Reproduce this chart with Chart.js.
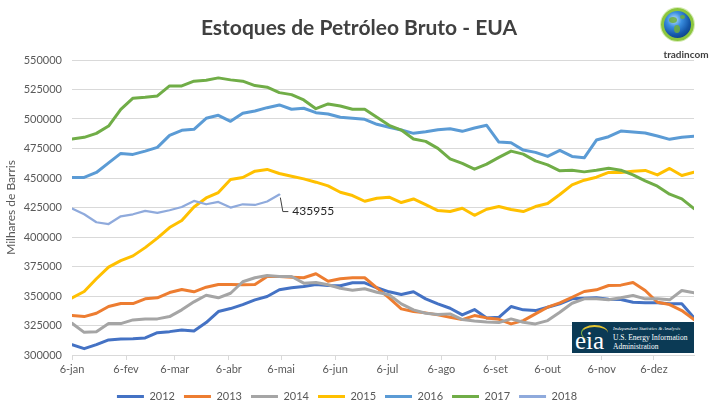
<!DOCTYPE html>
<html>
<head>
    <meta charset="UTF-8">
    <title>Estoques de Petróleo Bruto - EUA</title>
    <script src="https://cdn.jsdelivr.net/npm/chart.js"></script>
    <style>
        body {
            margin: 0;
            background: #fff;
            font-family: Lato, sans-serif;
        }
        #wrap {
            position: relative;
            width: 715px;
            height: 409px;
        }
        .title {
            position: absolute;
            left: 0;
            top: 12px;
            width: 718px;
            text-align: center;
            font: bold 21px Lato, sans-serif;
            line-height: 30px;
            color: #404040;
        }
        .globe {
            position: absolute;
            left: 661px;
            top: 8px;
            width: 27px;
            height: 27px;
            border-radius: 50%;
            background: radial-gradient(circle at 38% 32%, #bfe3ff 0%, #3a8ee0 30%, #1456a8 62%, #0a2c63 100%);
            border: 3px solid #8cc63e;
            box-shadow: 0 0 0 1px #d6ecb4;
        }
        .globe span {
            position: absolute;
            background: #6fae3a;
            border-radius: 50%;
            opacity: 0.85;
        }
        .brand {
            position: absolute;
            left: 660px;
            top: 48px;
            width: 52px;
            text-align: center;
            font: bold 10px Lato, sans-serif;
            color: #3f3f3f;
        }
        .eia {
            position: absolute;
            left: 572px;
            top: 322px;
            width: 122px;
            height: 31px;
            background: #0b3a55;
            color: #fff;
            overflow: hidden;
        }
        .eia .mark {
            position: absolute;
            left: 3px;
            top: 7px;
            font: 25px "Liberation Serif", serif;
            line-height: 24px;
        }
        .eia .swoosh {
            position: absolute;
            left: 9px;
            top: 3px;
            width: 26px;
            height: 14px;
            border-radius: 50%;
            border-top: 2px solid #e3c432;
            border-left: 1px solid #7cb342;
        }
        .eia .small {
            position: absolute;
            left: 41px;
            top: 4px;
            font: italic 5px "Liberation Serif", serif;
            white-space: nowrap;
        }
        .eia .big {
            position: absolute;
            left: 41px;
            top: 12px;
            font: 7.5px "Liberation Serif", serif;
            line-height: 8.5px;
            white-space: nowrap;
        }
    </style>
</head>
<body>
<div id="wrap">
    <canvas id="chart" width="715" height="409"></canvas>
    <div class="title">Estoques de Petróleo Bruto - EUA</div>
    <div class="globe">
        <span style="left:5px;top:6px;width:8px;height:6px"></span>
        <span style="left:10px;top:14px;width:6px;height:8px"></span>
        <span style="left:16px;top:4px;width:5px;height:4px"></span>
    </div>
    <div class="brand">tradincom</div>
    <div class="eia">
        <div class="swoosh"></div>
        <div class="mark">eia</div>
        <div class="small">Independent Statistics &amp; Analysis</div>
        <div class="big">U.S. Energy Information<br>Administration</div>
    </div>
</div>

<script>
    // eixo x: dias desde 6-jan, rótulos no dia 6 de cada mês
    const monthTicks = [0, 31, 59, 90, 120, 151, 181, 212, 243, 273, 304, 334];
    const monthLabels = ['6-jan', '6-fev', '6-mar', '6-abr', '6-mai', '6-jun',
                         '6-jul', '6-ago', '6-set', '6-out', '6-nov', '6-dez'];

    const years = ['2012', '2013', '2014', '2015', '2016', '2017', '2018'];
    const colors = ['#4472C4', '#ED7D31', '#A5A5A5', '#FFC000', '#5B9BD5', '#70AD47', '#8FAADC'];

    // estoques semanais (milhares de barris)
    const s2012 = [308750, 305350, 308750, 312750, 313600, 313850, 314450, 318950, 319800, 321250,
                   320400, 327450, 336800, 339350, 342750, 346750, 349550, 355250, 356950, 358050,
                   359750, 358900, 358650, 361200, 361200, 356950, 353550, 351250, 353550, 347600,
                   343350, 339600, 334000, 338500, 331450, 331950, 341050, 338250, 337650, 340500,
                   343350, 347600, 348100, 348450, 347250, 347000, 344700, 344200, 344200, 343350,
                   343350, 331450];
    const s2013 = [333400, 332550, 335350, 341050, 343600, 343600, 347600, 348450, 352950, 355500,
                   353550, 357450, 359750, 359750, 359500, 359750, 366550, 366550, 365950, 365450,
                   368850, 362550, 364600, 365450, 365450, 356950, 348450, 339100, 336800, 335700,
                   334000, 331950, 330000, 333400, 331450, 330250, 326350, 329150, 334850, 340500,
                   344200, 348950, 353800, 355250, 358900, 359200, 361450, 354650, 344700, 342750,
                   337650, 330000];
    const s2014 = [326850, 319200, 319800, 326600, 326600, 329750, 330600, 330600, 332550, 338250,
                   345050, 350650, 348450, 352350, 362050, 365450, 367400, 366550, 366550, 360900,
                   361450, 359500, 356600, 354900, 356100, 353200, 351000, 343350, 338250, 335350,
                   334250, 334850, 330000, 328900, 328050, 327450, 330600, 327700, 326350, 329150,
                   336200, 343850, 347600, 347600, 346750, 348450, 350400, 347600, 347600, 346750,
                   354650, 352700];
    const s2015 = [348450, 353800, 364600, 374450, 380000, 384000, 391000, 399000, 408000, 414000,
                   425450, 433100, 437700, 448750, 450450, 455800, 457250, 453850, 451550, 449250,
                   446450, 443300, 437950, 435150, 430300, 432850, 433700, 429200, 432250, 427500,
                   422400, 421550, 424350, 418400, 423500, 425800, 423250, 421550, 425800, 428350,
                   436000, 444150, 448150, 450700, 454700, 454700, 455800, 456400, 452650, 458100,
                   452150, 454950];
    const s2016 = [450450, 450450, 454700, 462850, 470850, 470000, 472800, 475950, 486150, 490400,
                   491250, 500600, 503150, 498050, 504850, 506800, 509600, 511900, 508250, 509100,
                   505350, 504250, 501450, 500600, 499750, 495500, 492950, 490650, 487850, 489200,
                   490900, 491750, 489550, 492350, 494650, 480450, 479850, 473650, 471700, 468300,
                   473400, 468300, 467100, 482150, 485000, 489800, 488950, 488100, 485550, 482750,
                   484450, 485300];
    const s2017 = [483000, 484450, 487850, 494000, 508250, 517600, 518450, 519550, 528000, 528000,
                   532050, 532900, 534850, 533150, 532050, 528300, 527000, 522350, 520650, 516150,
                   508750, 512750, 511050, 508250, 508250, 501450, 494650, 490650, 483000, 481050,
                   475100, 466250, 462350, 457500, 461750, 467450, 472800, 470250, 464550, 461150,
                   456050, 456650, 455200, 456650, 458350, 456650, 452650, 447550, 443050, 436250,
                   432250, 424100];
    const s2018 = [424100, 419250, 412500, 411000, 417550, 419250, 422100, 420400, 422650, 425450,
                   430550, 427750, 429700, 424950, 427750, 427150, 430050, 435955];

    const series = [s2012, s2013, s2014, s2015, s2016, s2017, s2018];

    Chart.defaults.font.family = 'Lato, sans-serif';

    // rótulo do último valor de 2018 com linha de chamada
    const lastValueLabel = {
        id: 'lastValueLabel',
        afterDatasetsDraw(chart) {
            const meta = chart.getDatasetMeta(6);
            const pt = meta.data[meta.data.length - 1];
            const ctx = chart.ctx;
            ctx.save();
            ctx.strokeStyle = '#404040';
            ctx.lineWidth = 1;
            ctx.beginPath();
            ctx.moveTo(pt.x + 1, pt.y + 3);
            ctx.lineTo(pt.x + 3.5, pt.y + 17);
            ctx.lineTo(pt.x + 9, pt.y + 17);
            ctx.stroke();
            ctx.fillStyle = '#262626';
            ctx.font = '12px Lato, sans-serif';
            ctx.textBaseline = 'middle';
            ctx.fillText(String(s2018[s2018.length - 1]), pt.x + 13, pt.y + 17);
            ctx.restore();
        }
    };

    const datasets = series.map((arr, i) => ({
        label: years[i],
        data: arr.map((v, w) => ({ x: w * 7, y: v })),
        borderColor: colors[i],
        backgroundColor: colors[i],
        borderWidth: i === 6 ? 2.25 : 3,
        borderJoinStyle: 'round',
        borderCapStyle: 'round',
        pointRadius: 0,
        tension: 0,
        order: series.length - i
    }));

    const ctx = document.getElementById('chart').getContext('2d');
    new Chart(ctx, {
        type: 'line',
        data: { datasets },
        plugins: [lastValueLabel],
        options: {
            responsive: false,
            animation: false,
            layout: { padding: { left: 0, right: 21, top: 60, bottom: -3 } },
            plugins: {
                title: { display: false },
                legend: {
                    position: 'bottom',
                    labels: {
                        boxWidth: 27,
                        boxHeight: 3,
                        padding: 9,
                        color: '#595959',
                        font: { size: 11 },
                        generateLabels: chart => chart.data.datasets.map((ds, i) => ({
                            text: ds.label,
                            fillStyle: ds.borderColor,
                            strokeStyle: ds.borderColor,
                            lineWidth: 0,
                            fontColor: '#595959',
                            datasetIndex: i
                        }))
                    }
                },
                tooltip: { enabled: false }
            },
            scales: {
                x: {
                    type: 'linear',
                    min: 0,
                    max: 357,
                    afterBuildTicks: scale => {
                        scale.ticks = monthTicks.map(v => ({ value: v }));
                    },
                    afterFit: scale => { scale.height = 27; },
                    ticks: {
                        autoSkip: false,
                        maxRotation: 0,
                        color: '#595959',
                        font: { size: 11 },
                        padding: 3,
                        callback: v => monthLabels[monthTicks.indexOf(v)]
                    },
                    grid: { drawOnChartArea: false, tickLength: 5, color: '#D9D9D9' },
                    border: { color: '#D9D9D9' }
                },
                y: {
                    min: 300000,
                    max: 550000,
                    afterFit: scale => { scale.width = 72; },
                    ticks: {
                        stepSize: 25000,
                        color: '#595959',
                        font: { size: 11 },
                        padding: 10,
                        callback: v => String(v)
                    },
                    grid: { color: '#D9D9D9', drawTicks: false },
                    border: { display: false },
                    title: {
                        display: true,
                        text: 'Milhares de Barris',
                        color: '#595959',
                        font: { size: 12 },
                        padding: { top: 4, bottom: 0 }
                    }
                }
            }
        }
    });
</script>
</body>
</html>
